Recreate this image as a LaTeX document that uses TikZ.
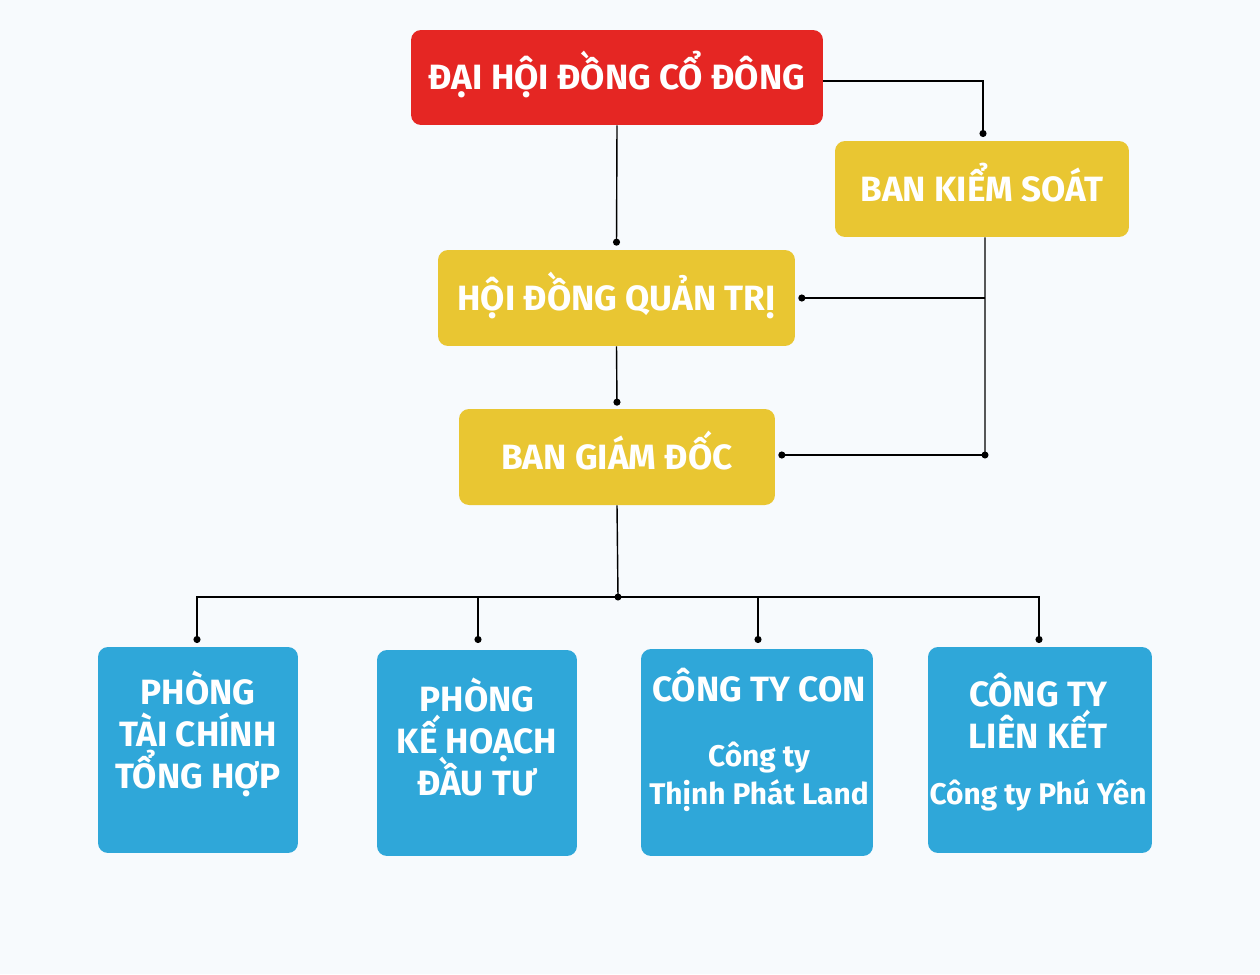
\documentclass[tikz,border=0pt]{standalone}
\usepackage{fontspec}
\setmainfont{Fira Sans}
\usetikzlibrary{arrows.meta}
\definecolor{bg}{RGB}{247,250,253}
\definecolor{cred}{RGB}{229,38,35}
\definecolor{cyel}{RGB}{233,198,50}
\definecolor{cblue}{RGB}{47,167,217}
\newcommand{\capsline}[1]{{\fontsize{20}{24}\selectfont #1}}
\newcommand{\noskiplim}{\setlength{\lineskiplimit}{-20pt}}
\begin{document}
\begin{tikzpicture}[x=0.02cm,y=-0.02cm,
  box/.style={rounded corners=0.2cm, inner sep=0pt, text=white, align=center,
    font=\bfseries\fontsize{20}{24}\selectfont, text height=13.8pt, text depth=0pt},
  redbox/.style={box, fill=cred},
  yelbox/.style={box, fill=cyel},
  bluebox/.style={box, fill=cblue},
  txt/.style={text=white, align=center, inner sep=0pt,
    font=\bfseries\fontsize{17}{24}\selectfont\noskiplim},
  conn/.style={line width=0.8pt, draw=black},
  dotend/.style={conn, -{Circle[length=4pt]}},
  dot/.style={circle, fill=black, inner sep=0pt, minimum size=4pt}
]
\fill[bg] (0,0) rectangle (1260,974);
\useasboundingbox (0,0) rectangle (1260,974);

\node[redbox, minimum width=8.24cm, minimum height=1.9cm] (dh) at (617,77.5) {ĐẠI HỘI ĐỒNG CỔ ĐÔNG};
\node[yelbox, minimum width=5.88cm, minimum height=1.92cm] (bks) at (982,189) {BAN KIỂM SOÁT};
\node[yelbox, minimum width=7.14cm, minimum height=1.92cm] (hd) at (616.5,298) {HỘI ĐỒNG QUẢN TRỊ};
\node[yelbox, minimum width=6.32cm, minimum height=1.92cm] (bgd) at (617,457) {BAN GIÁM ĐỐC};

\node[bluebox, minimum width=4.0cm, minimum height=4.12cm] (p1) at (198,750) {};
\node[bluebox, minimum width=4.0cm, minimum height=4.12cm] (p2) at (477,753) {};
\node[bluebox, minimum width=4.64cm, minimum height=4.14cm] (p3) at (757,752.5) {};
\node[bluebox, minimum width=4.48cm, minimum height=4.12cm] (p4) at (1040,750) {};

\node[txt] (p1t) at (198,734) {\capsline{PHÒNG}\\\capsline{TÀI CHÍNH}\\\capsline{TỔNG HỢP}};
\node[txt] (p2t) at (477,737) {\capsline{PHÒNG}\\\capsline{KẾ HOẠCH}\\\capsline{ĐẦU TƯ}};
\node[txt] (p3t) at (759,740) {\capsline{CÔNG TY CON}\\[13pt]Công ty\\[-2pt]Thịnh Phát Land};
\node[txt] (p4t) at (1038,742) {\capsline{CÔNG TY}\\\capsline{LIÊN KẾT}\\[8pt]Công ty Phú Yên};

% connectors
\coordinate (bkstop) at (983,137);
\draw[dotend] ([yshift=-0.07cm]dh.east) -| (bkstop);
\draw[dotend] (dh.south) -- ([yshift=0.08cm]hd.north);
\draw[dotend] (hd.south) -- ([yshift=0.06cm]bgd.north);
\coordinate (kj) at (985,455);
\coordinate (kh) at (985,298);
\draw[conn] ([xshift=0.06cm]bks.south) -- (kj);
\node[dot] (kjd) at (kj) {};
\draw[dotend] (kh) -- ([xshift=0.06cm]hd.east);
\draw[dotend] (kj) -- ([xshift=0.06cm]bgd.east |- kj);

\coordinate (bus) at (618,597);
\draw[conn] (bgd.south) -- (bus);
\node[dot] (busd) at (bus) {};
\coordinate (d1) at (197,643);
\coordinate (d2) at (478,643);
\coordinate (d3) at (758,643);
\coordinate (d4) at (1039,643);
\draw[dotend] (bus) -| (d1);
\draw[dotend] (bus) -| (d2);
\draw[dotend] (bus) -| (d3);
\draw[dotend] (bus) -| (d4);
\end{tikzpicture}
\end{document}
